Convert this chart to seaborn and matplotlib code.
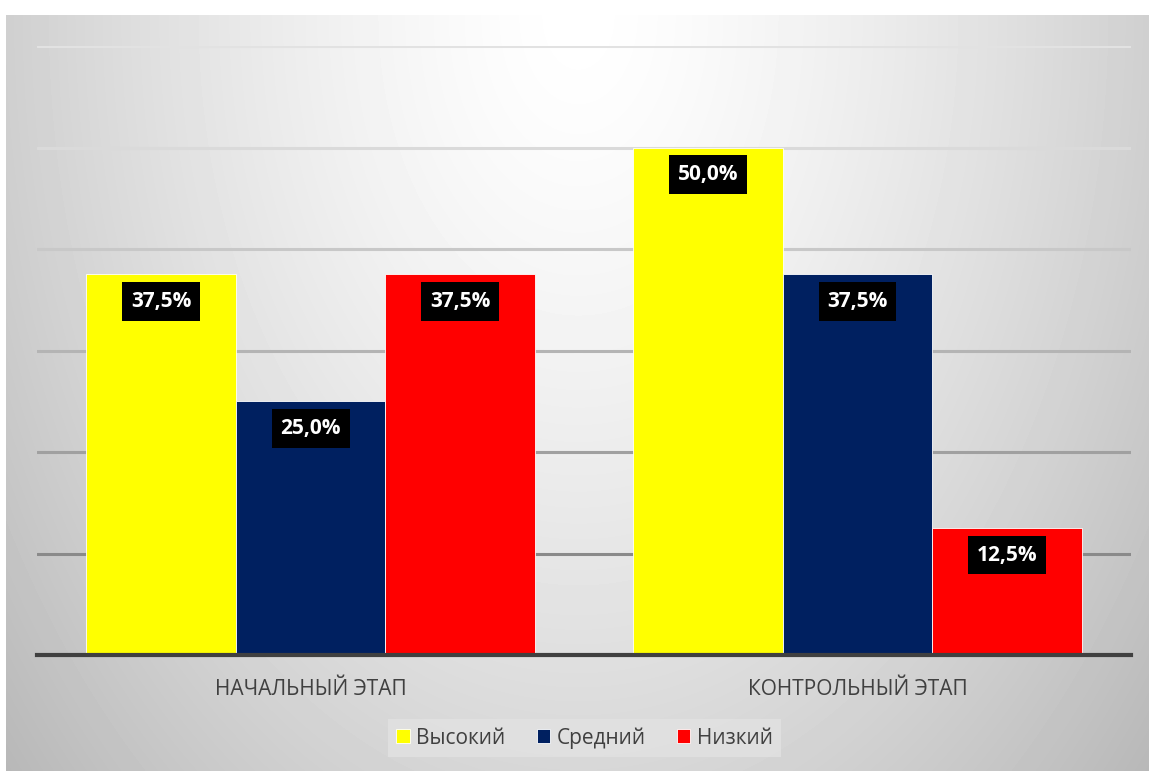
import numpy as np
import pandas as pd
import matplotlib.pyplot as plt
import seaborn as sns

# данные
stages = ['НАЧАЛЬНЫЙ ЭТАП', 'КОНТРОЛЬНЫЙ ЭТАП']
levels = ['Высокий', 'Средний', 'Низкий']
high = [37.5, 50.0]
mid = [25.0, 37.5]
low = [37.5, 12.5]
colors = ['#FFFF00', '#002060', '#FF0000']

df = pd.DataFrame({
    'этап': stages * 3,
    'уровень': [levels[0]] * 2 + [levels[1]] * 2 + [levels[2]] * 2,
    'процент': high + mid + low,
})

sns.set_theme(style='white')
plt.rcParams['font.family'] = ['Open Sans', 'DejaVu Sans']

fig = plt.figure(figsize=(11.49, 7.71), dpi=100)
fig.patch.set_facecolor('white')

# градиентный фон области диаграммы
bg = fig.add_axes([6 / 1149, 0, 1143 / 1149, 756 / 771])
yy, xx = np.mgrid[0:756, 0:1143]
t = np.sqrt(((xx - 572) / 600.0) ** 2 + (yy / 900.0) ** 2)
shade = np.clip(1 - 0.2 * t ** 1.4, 0, 1)
bg.imshow(shade, cmap='gray', vmin=0, vmax=1, aspect='auto', interpolation='bilinear')
bg.axis('off')

ax = fig.add_axes([37 / 1149, 1 - 655 / 771, 1094 / 1149, (655 - 46) / 771])
ax.set_facecolor('none')

sns.barplot(data=df, x='этап', y='процент', hue='уровень', hue_order=levels,
            palette=colors, width=0.82, saturation=1, ax=ax,
            edgecolor='white', linewidth=0.6, legend=True)

ax.set_ylim(0, 60)
ax.set_xlim(-0.5, 1.5)
ax.set_yticks(range(0, 61, 10))
ax.set_yticklabels([])
ax.tick_params(axis='y', length=0)
ax.grid(axis='y', linewidth=2.2)
ax.set_axisbelow(True)
# линии сетки светлеют кверху
grid_shades = ['#808080', '#8a8a8a', '#a0a0a0', '#b4b4b4', '#c8c8c8', '#dadada', '#e2e2e2']
for gl, c in zip(ax.get_ygridlines(), grid_shades):
    gl.set_color(c)
for s in ['top', 'right', 'left']:
    ax.spines[s].set_visible(False)
ax.spines['bottom'].set_color('#404040')
ax.spines['bottom'].set_linewidth(3)
ax.set_xlabel('')
ax.set_ylabel('')
ax.tick_params(axis='x', length=0, pad=17, labelsize=15, labelcolor='#404040')

# подписи значений
for bar in ax.patches:
    h = bar.get_height()
    if h <= 0:
        continue
    ax.annotate(f'{h:.1f}%'.replace('.', ','),
                xy=(bar.get_x() + bar.get_width() / 2, h),
                xytext=(0, -19.5), textcoords='offset points',
                ha='center', va='center', color='white', fontsize=15,
                fontweight='bold',
                bbox=dict(boxstyle='square,pad=0.42', fc='black', ec='none'))

ax.legend_.remove()
handles, labels = ax.get_legend_handles_labels()
leg = fig.legend(handles, labels, loc='lower center', ncol=3,
                 bbox_to_anchor=(0.5087, 0.01), frameon=True, fancybox=False,
                 fontsize=15, handlelength=0.65, handleheight=0.65,
                 handletextpad=0.3, columnspacing=1.5, borderpad=0.4,
                 borderaxespad=0.3)
leg.get_frame().set_facecolor('#e2e2e2')
leg.get_frame().set_edgecolor('none')
for txt in leg.get_texts():
    txt.set_color('#404040')

fig.savefig('out.png', dpi=100)
